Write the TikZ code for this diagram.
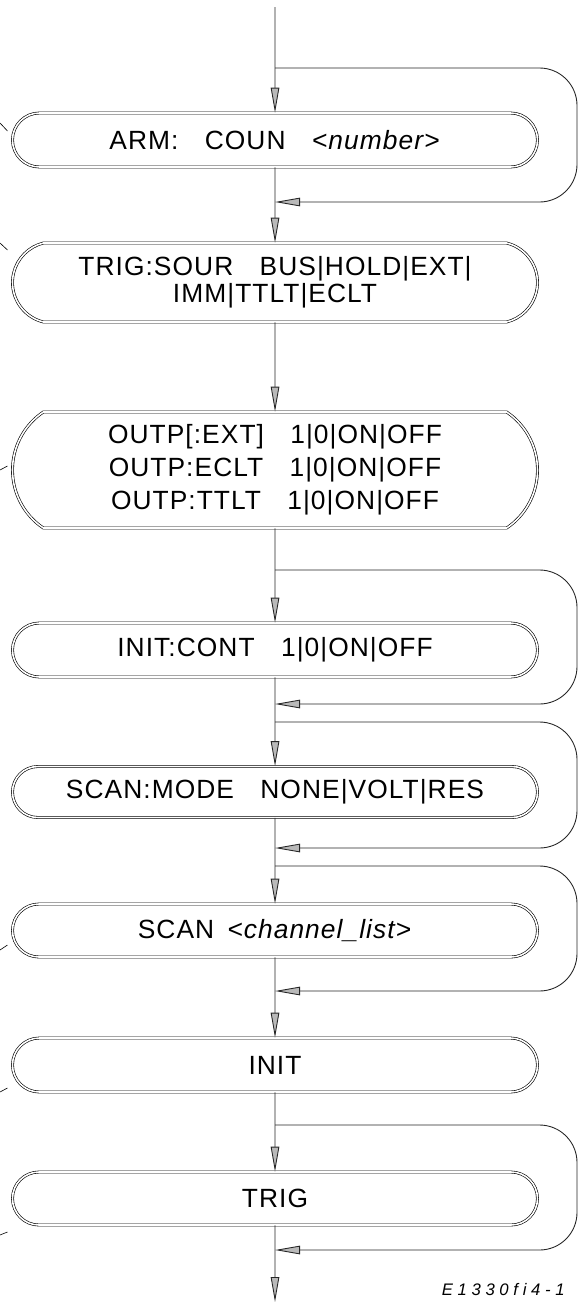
\documentclass[tikz,border=0pt]{standalone}
\usepackage{fontspec}
\setmainfont{Liberation Sans}[LetterSpace=4]
\usetikzlibrary{shapes.misc, arrows.meta}

\begin{document}
\begin{tikzpicture}[>={Triangle[length=0.5cm, width=0.17cm, fill=gray!55]}, cmd style/.style={rounded rectangle, draw, double, double distance=0.9pt, line width=0.35pt, minimum width=10.5cm, minimum height=1.08cm, inner sep=0pt, align=center, font=\fontsize{15}{15.5}\selectfont}, flow/.style={line width=0.5pt, black!85}, back/.style={flow, rounded corners=0.75cm}]
	\useasboundingbox (0,0) rectangle (11.56,-26.06);
	\coordinate (top) at (5.5,-0.14);
	\node[cmd style] (arm) at (5.5,-2.80) {ARM:\quad COUN\quad \textit{<number>}};
	\node[cmd style, minimum height=1.58cm, rounded rectangle arc length=152] (trigsour) at (5.5,-5.65) {TRIG:SOUR\quad BUS|HOLD|EXT|\\IMM|TTLT|ECLT};
	\node[cmd style, minimum height=2.32cm, rounded rectangle arc length=112] (outp) at (5.5,-9.40) {OUTP[:EXT]\quad 1|0|ON|OFF\\[3.3pt]OUTP:ECLT\quad 1|0|ON|OFF\\[3.3pt]OUTP:TTLT\quad 1|0|ON|OFF};
	\node[cmd style] (initcont) at (5.5,-13.00) {INIT:CONT\quad 1|0|ON|OFF};
	\node[cmd style, minimum height=1.02cm] (scanmode) at (5.5,-15.84) {SCAN:MODE\quad NONE|VOLT|RES};
	\node[cmd style, minimum height=1.06cm] (scan) at (5.5,-18.61) {SCAN\enspace \textit{<channel\_list>}};
	\node[cmd style] (init) at (5.5,-21.30) {INIT};
	\node[cmd style, minimum height=1.06cm] (trig) at (5.5,-23.97) {TRIG};
	\coordinate (bottom) at (5.5,-26.04);
	\node[anchor=north east, inner sep=0pt, font=\itshape\fontsize{9.5}{10}\selectfont\addfontfeature{LetterSpace=28}] (figid) at (11.30,-25.66) {E1330fi4-1};
	\coordinate (b1) at (5.5,-1.36);
	\coordinate (r1) at (5.5,-4.04);
	\coordinate (b2) at (5.5,-11.40);
	\coordinate (r2) at (5.5,-14.08);
	\coordinate (b3) at (5.5,-14.44);
	\coordinate (r3) at (5.5,-16.96);
	\coordinate (b4) at (5.5,-17.32);
	\coordinate (r4) at (5.5,-19.82);
	\coordinate (b5) at (5.5,-22.50);
	\coordinate (r5) at (5.5,-25.00);
	\draw[flow, ->] (top) -- (arm);
	\draw[flow, ->] (arm) -- (trigsour);
	\draw[flow, ->] (trigsour) -- (outp);
	\draw[flow, ->] (outp) -- (initcont);
	\draw[flow, ->] (initcont) -- (scanmode);
	\draw[flow, ->] (scanmode) -- (scan);
	\draw[flow, ->] (scan) -- (init);
	\draw[flow, ->] (init) -- (trig);
	\draw[flow, ->] (trig) -- (bottom);
	\foreach \from/\to in {b1/r1, b2/r2, b3/r3, b4/r4, b5/r5}
		\draw[back, ->] (\from) -- ++(6.04,0) |- (\to);
	\foreach \ya/\yb in {-2.46/-2.62, -4.86/-5.00, -9.40/-9.32, -19.00/-18.90, -21.84/-21.76, -24.70/-24.64}
		\draw[line width=0.35pt] (0,\ya) -- (0.15,\yb);
\end{tikzpicture}
\end{document}
